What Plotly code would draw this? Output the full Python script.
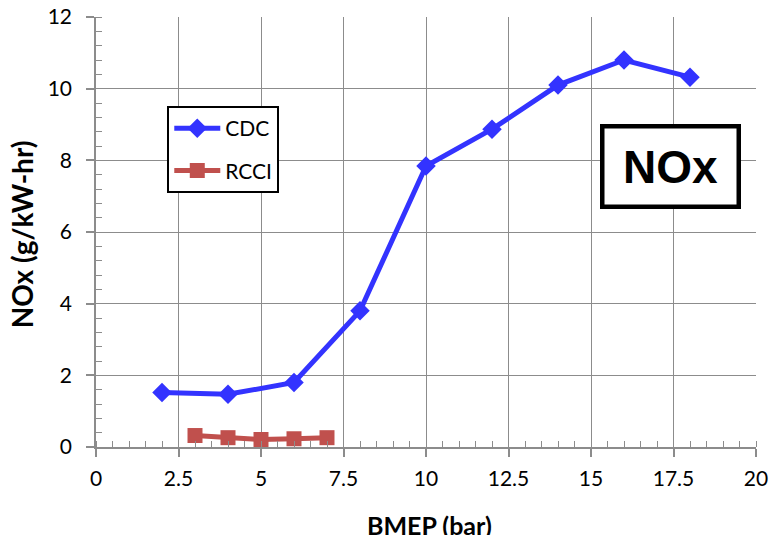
import plotly.graph_objects as go

# BMEP sweep data
cdc_bmep = [2, 4, 6, 8, 10, 12, 14, 16, 18]
cdc_nox = [1.52, 1.47, 1.80, 3.80, 7.84, 8.87, 10.10, 10.80, 10.32]

rcci_bmep = [3, 4, 5, 6, 7]
rcci_nox = [0.32, 0.26, 0.21, 0.23, 0.26]

x_ticks = [0, 2.5, 5, 7.5, 10, 12.5, 15, 17.5, 20]
x_tick_text = ["0", "2.5", "5", "7.5", "10", "12.5", "15", "17.5", "20"]
y_ticks = [0, 2, 4, 6, 8, 10, 12]

FONT = "Lato, Carlito, Calibri, sans-serif"
GRID = "#8c8c8c"

fig = go.Figure()
fig.add_trace(go.Scatter(
    x=cdc_bmep, y=cdc_nox, name="CDC", mode="lines+markers", legendgroup="cdc",
    line=dict(color="#3333ff", width=5),
    marker=dict(symbol="diamond", size=15, color="#3333ff"),
    cliponaxis=False,
))
fig.add_trace(go.Scatter(
    x=rcci_bmep, y=rcci_nox, name="RCCI", mode="lines+markers", legendgroup="rcci",
    line=dict(color="#c0504d", width=5),
    marker=dict(symbol="square", size=15, color="#c0504d"),
    cliponaxis=False,
))

axis_common = dict(
    showgrid=True, gridcolor=GRID, gridwidth=1,
    showline=True, linecolor=GRID, linewidth=1.5,
    ticks="outside", ticklen=8, tickcolor=GRID, tickwidth=1.5,
    zeroline=False, fixedrange=True, automargin=False,
    tickfont=dict(family=FONT, size=21),
)

fig.update_layout(
    width=771, height=535,
    margin=dict(l=96, r=15, t=17, b=88, autoexpand=False),
    paper_bgcolor="white", plot_bgcolor="white",
    font=dict(family=FONT, size=18, color="black"),
    showlegend=True,
    legend=dict(
        x=0.108, y=0.793, xanchor="left", yanchor="top",
        bgcolor="white", bordercolor="black", borderwidth=2,
        font=dict(family=FONT, size=21, color="black"),
        itemwidth=46, tracegroupgap=12,
    ),
    xaxis=dict(
        range=[0, 20], tickmode="array", tickvals=x_ticks, ticktext=x_tick_text,
        ticklabelstandoff=4,
        minor=dict(dtick=0.5, ticks="inside", ticklen=6, tickcolor=GRID,
                   tickwidth=1, showgrid=False),
        **axis_common,
    ),
    yaxis=dict(
        range=[0, 12], tickmode="array", tickvals=y_ticks,
        ticklabelstandoff=10,
        minor=dict(dtick=0.4, ticks="inside", ticklen=6, tickcolor=GRID,
                   tickwidth=1, showgrid=False),
        **axis_common,
    ),
    annotations=[
        dict(text="<b>NOx (g/kW-hr)</b>", xref="paper", yref="paper",
             x=-0.112, y=0.495, textangle=-90, showarrow=False,
             xanchor="center", yanchor="middle",
             font=dict(family=FONT, size=28, color="black")),
        dict(text="<b>BMEP (bar)</b>", xref="paper", yref="paper",
             x=0.505, y=-0.143, showarrow=False, xanchor="center", yanchor="top",
             font=dict(family=FONT, size=25, color="black")),
        dict(text="<b>NOx</b>", xref="paper", yref="paper",
             x=0.870, y=0.653, showarrow=False, xanchor="center", yanchor="middle",
             font=dict(family="Liberation Sans, Arial, sans-serif", size=46, color="black"),
             bordercolor="black", borderwidth=4.5, borderpad=12, bgcolor="white",
             width=108, height=52),
    ],
)

fig.write_html("out.html")
